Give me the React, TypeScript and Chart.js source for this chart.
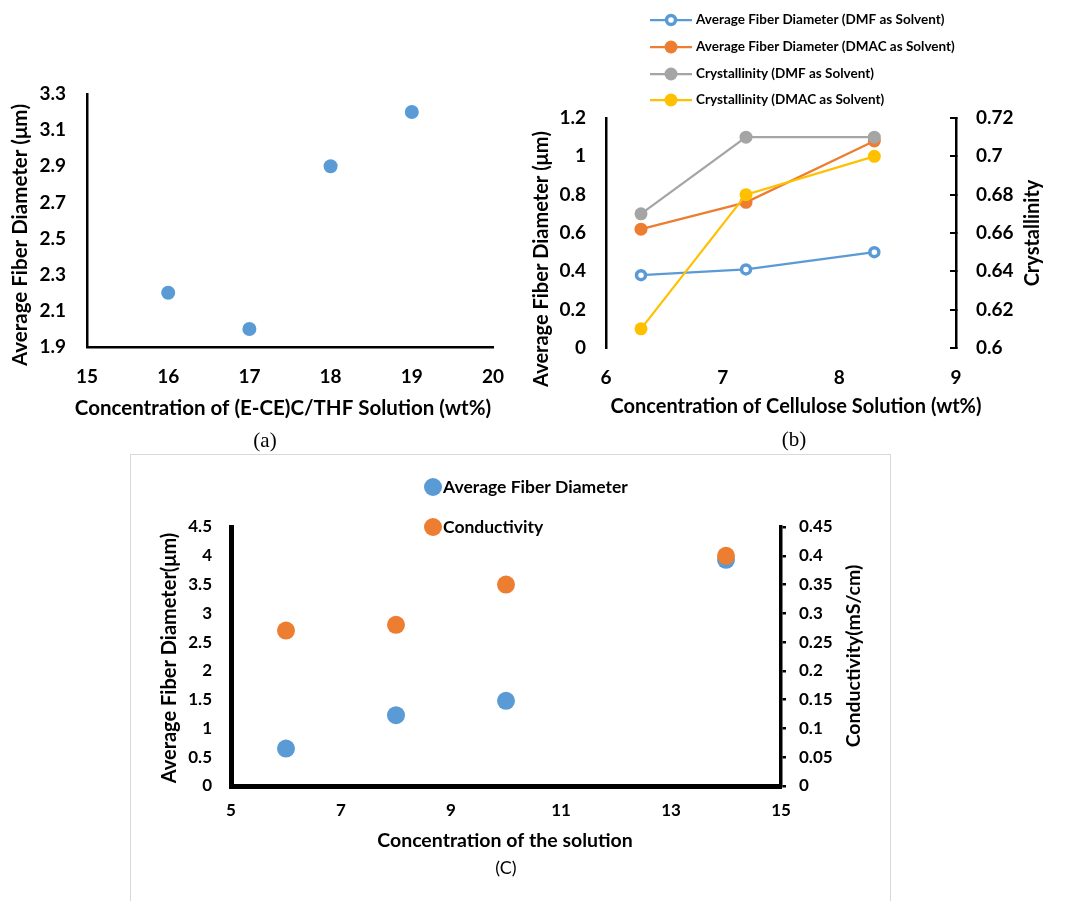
import React, { useEffect, useRef } from 'react';
import { Chart, registerables } from 'chart.js';

Chart.register(...registerables);

// ---------- data ----------
// (a)
const aConcentration = [16, 17, 18, 19];
const aDiameter = [2.2, 2.0, 2.9, 3.2];

// (b)
const bConcentration = [6.3, 7.2, 8.3];
const bDiameterDMF = [0.38, 0.41, 0.5];
const bDiameterDMAC = [0.62, 0.76, 1.08];
const bCrystDMF = [0.67, 0.71, 0.71];
const bCrystDMAC = [0.61, 0.68, 0.7];
const bLabels = [
  'Average Fiber Diameter (DMF as Solvent)',
  'Average Fiber Diameter (DMAC as Solvent)',
  'Crystallinity (DMF as Solvent)',
  'Crystallinity (DMAC as Solvent)',
];

// (c)
const cConcentration = [6, 8, 10, 14];
const cDiameter = [0.65, 1.23, 1.48, 3.93];
const cConductivity = [0.27, 0.28, 0.35, 0.4];
const cLabels = ['Average Fiber Diameter', 'Conductivity'];

// ---------- style ----------
const W = 1068;
const H = 901;
const FONT = 'Lato, "Open Sans", sans-serif';
const SERIF = '"Liberation Serif", serif';
const BLUE = '#5B9BD5';
const ORANGE = '#ED7D31';
const GRAY = '#A5A5A5';
const YELLOW = '#FFC000';
const XAXIS_H = 60;

const pts = (xs: number[], ys: number[]) => xs.map((x, i) => ({ x, y: ys[i] }));
const tickFmt = (v: any) => String(Number(Number(v).toFixed(4)));

type TextItem = {
  text: string;
  x: number;
  y: number;
  rot?: number;
  font: string;
  align?: CanvasTextAlign;
  color?: string;
};

function textPlugin(id: string, items: TextItem[]) {
  return {
    id,
    afterDraw(chart: any) {
      const ctx = chart.ctx as CanvasRenderingContext2D;
      items.forEach((it) => {
        ctx.save();
        ctx.translate(it.x, it.y);
        if (it.rot) ctx.rotate(it.rot);
        ctx.font = it.font;
        ctx.fillStyle = it.color || '#000';
        ctx.textAlign = it.align || 'center';
        ctx.textBaseline = 'middle';
        ctx.fillText(it.text, 0, 0);
        ctx.restore();
      });
    },
  };
}

function lineLegendPlugin(rows: number[], x0: number, x1: number, tx: number, font: string) {
  return {
    id: 'lineLegend',
    afterDraw(chart: any) {
      const ctx = chart.ctx as CanvasRenderingContext2D;
      chart.data.datasets.forEach((ds: any, i: number) => {
        const y = rows[i];
        ctx.save();
        ctx.strokeStyle = ds.borderColor;
        ctx.lineWidth = ds.borderWidth;
        ctx.beginPath();
        ctx.moveTo(x0, y);
        ctx.lineTo(x1, y);
        ctx.stroke();
        const cx = (x0 + x1) / 2;
        ctx.beginPath();
        ctx.arc(cx, y, ds.pointRadius, 0, Math.PI * 2);
        ctx.fillStyle = ds.pointBackgroundColor;
        ctx.fill();
        if (ds.pointBorderWidth) {
          ctx.lineWidth = ds.pointBorderWidth;
          ctx.strokeStyle = ds.pointBorderColor;
          ctx.stroke();
        }
        ctx.font = font;
        ctx.fillStyle = '#000';
        ctx.textAlign = 'left';
        ctx.textBaseline = 'middle';
        ctx.fillText(ds.label, tx, y);
        ctx.restore();
      });
    },
  };
}

function dotLegendPlugin(rows: number[], cx: number, r: number, tx: number, font: string) {
  return {
    id: 'dotLegend',
    afterDraw(chart: any) {
      const ctx = chart.ctx as CanvasRenderingContext2D;
      const sets = [...chart.data.datasets].sort((a: any, b: any) => a.legendIndex - b.legendIndex);
      sets.forEach((ds: any, i: number) => {
        const y = rows[i];
        ctx.save();
        ctx.beginPath();
        ctx.arc(cx, y, r, 0, Math.PI * 2);
        ctx.fillStyle = ds.backgroundColor;
        ctx.fill();
        ctx.font = font;
        ctx.fillStyle = '#000';
        ctx.textAlign = 'left';
        ctx.textBaseline = 'middle';
        ctx.fillText(ds.label, tx, y);
        ctx.restore();
      });
    },
  };
}

const tickFont = (size: number) => ({ family: FONT, size, weight: 'bold' as const });
const noPlugins = { legend: { display: false }, tooltip: { enabled: false } };

// ---------- chart (a) ----------
function makeA(canvas: HTMLCanvasElement) {
  const L = 87, R = 493, T = 94, B = 347;
  return new Chart(canvas, {
    type: 'scatter',
    data: {
      datasets: [
        {
          label: 'Average Fiber Diameter',
          data: pts(aConcentration, aDiameter),
          backgroundColor: BLUE,
          borderColor: BLUE,
          pointRadius: 7,
          pointBorderWidth: 0,
        },
      ],
    },
    options: {
      responsive: false,
      animation: false,
      devicePixelRatio: 1,
      layout: { padding: { left: L - 60, right: W - R, top: T, bottom: H - B - XAXIS_H } },
      plugins: noPlugins as any,
      scales: {
        x: {
          type: 'linear',
          min: 15,
          max: 20,
          grid: { display: false },
          border: { display: true, color: '#000', width: 2.5 },
          ticks: { stepSize: 1, color: '#000', font: tickFont(19), padding: 10, callback: tickFmt },
          afterFit: (s: any) => { s.height = XAXIS_H; },
        },
        y: {
          min: 1.9,
          max: 3.3,
          grid: { display: false },
          border: { display: true, color: '#000', width: 2.5 },
          ticks: { stepSize: 0.2, color: '#000', font: tickFont(19), padding: 13, callback: tickFmt },
          afterFit: (s: any) => { s.width = 60; },
        },
      },
    },
    plugins: [
      textPlugin('textA', [
        { text: 'Average Fiber Diameter (μm)', x: 20, y: 235, rot: -Math.PI / 2, font: `bold 20.5px ${FONT}` },
        { text: 'Concentration of (E-CE)C/THF Solution (wt%)', x: 283, y: 408, font: `bold 20.5px ${FONT}` },
        { text: '(a)', x: 265, y: 441, font: `21px ${SERIF}` },
      ]),
    ],
  } as any);
}

// ---------- chart (b) ----------
function makeB(canvas: HTMLCanvasElement) {
  const L = 606, R = 956, T = 118, B = 348;
  const lineDs = (label: string, ys: number[], color: string, axis: string, order: number, hollow = false) => ({
    label,
    data: pts(bConcentration, ys),
    yAxisID: axis,
    borderColor: color,
    backgroundColor: color,
    borderWidth: 2.25,
    pointRadius: hollow ? 4.5 : 6.5,
    pointBackgroundColor: hollow ? '#fff' : color,
    pointBorderColor: color,
    pointBorderWidth: hollow ? 3.5 : 0,
    tension: 0,
    order,
  });
  return new Chart(canvas, {
    type: 'line',
    data: {
      datasets: [
        lineDs(bLabels[0], bDiameterDMF, BLUE, 'y', 3, true),
        lineDs(bLabels[1], bDiameterDMAC, ORANGE, 'y', 2),
        lineDs(bLabels[2], bCrystDMF, GRAY, 'y1', 1),
        lineDs(bLabels[3], bCrystDMAC, YELLOW, 'y1', 0),
      ],
    },
    options: {
      responsive: false,
      animation: false,
      devicePixelRatio: 1,
      layout: { padding: { left: L - 60, right: W - R - 80, top: T, bottom: H - B - XAXIS_H } },
      plugins: noPlugins as any,
      scales: {
        x: {
          type: 'linear',
          min: 6,
          max: 9,
          grid: { display: false },
          border: { display: false },
          ticks: { stepSize: 1, color: '#000', font: tickFont(19), padding: 10, callback: tickFmt },
          afterFit: (s: any) => { s.height = XAXIS_H; },
        },
        y: {
          position: 'left',
          min: 0,
          max: 1.2,
          grid: { display: false },
          border: { display: true, color: '#000', width: 2.5 },
          ticks: { stepSize: 0.2, color: '#000', font: tickFont(19), padding: 12, callback: tickFmt },
          afterFit: (s: any) => { s.width = 60; },
        },
        y1: {
          position: 'right',
          min: 0.6,
          max: 0.72,
          grid: {
            display: true,
            drawOnChartArea: false,
            drawTicks: true,
            tickLength: -6,
            color: '#000',
            lineWidth: 2,
          },
          border: { display: true, color: '#000', width: 2.5 },
          ticks: { stepSize: 0.02, color: '#000', font: tickFont(19), padding: 26, callback: tickFmt },
          afterFit: (s: any) => { s.width = 80; },
        },
      },
    },
    plugins: [
      textPlugin('textB', [
        { text: 'Average Fiber Diameter (μm)', x: 542, y: 259, rot: -Math.PI / 2, font: `bold 20px ${FONT}` },
        { text: 'Crystallinity', x: 1033, y: 233, rot: -Math.PI / 2, font: `bold 20px ${FONT}` },
        { text: 'Concentration of Cellulose Solution (wt%)', x: 796, y: 407, font: `bold 20px ${FONT}` },
        { text: '(b)', x: 794, y: 440, font: `21px ${SERIF}` },
      ]),
      lineLegendPlugin([20, 47, 74, 100], 650, 692, 696, `bold 13.5px ${FONT}`),
    ],
  } as any);
}

// ---------- chart (c) ----------
function makeC(canvas: HTMLCanvasElement) {
  const L = 231, R = 781, T = 527, B = 786;
  return new Chart(canvas, {
    type: 'scatter',
    data: {
      datasets: [
        {
          label: cLabels[0],
          data: pts(cConcentration, cDiameter),
          yAxisID: 'y',
          backgroundColor: BLUE,
          borderColor: BLUE,
          pointRadius: 9,
          pointBorderWidth: 0,
          order: 1,
          legendIndex: 0,
        },
        {
          label: cLabels[1],
          data: pts(cConcentration, cConductivity),
          yAxisID: 'y1',
          backgroundColor: ORANGE,
          borderColor: ORANGE,
          pointRadius: 9,
          pointBorderWidth: 0,
          order: 0,
          legendIndex: 1,
        },
      ],
    },
    options: {
      responsive: false,
      animation: false,
      devicePixelRatio: 1,
      layout: { padding: { left: L - 60, right: W - R - 70, top: T, bottom: H - B - XAXIS_H } },
      plugins: noPlugins as any,
      scales: {
        x: {
          type: 'linear',
          min: 5,
          max: 15,
          grid: { display: false },
          border: { display: true, color: '#000', width: 5 },
          ticks: { stepSize: 2, color: '#000', font: tickFont(17), padding: 6, callback: tickFmt },
          afterFit: (s: any) => { s.height = XAXIS_H; },
        },
        y: {
          position: 'left',
          min: 0,
          max: 4.5,
          grid: { display: false },
          border: { display: true, color: '#000', width: 5 },
          ticks: { stepSize: 0.5, color: '#000', font: tickFont(17), padding: 11, callback: tickFmt },
          afterFit: (s: any) => { s.width = 60; },
        },
        y1: {
          position: 'right',
          min: 0,
          max: 0.45,
          grid: {
            display: true,
            drawOnChartArea: false,
            drawTicks: true,
            tickLength: 5,
            color: '#000',
            lineWidth: 2.5,
          },
          border: { display: true, color: '#000', width: 3.5 },
          ticks: { stepSize: 0.05, color: '#000', font: tickFont(17), padding: 13, callback: tickFmt },
          afterFit: (s: any) => { s.width = 70; },
        },
      },
    },
    plugins: [
      textPlugin('textC', [
        { text: 'Average Fiber Diameter(μm)', x: 170, y: 658, rot: -Math.PI / 2, font: `bold 20px ${FONT}` },
        { text: 'Conductivity(mS/cm)', x: 854, y: 656, rot: -Math.PI / 2, font: `bold 19.5px ${FONT}` },
        { text: 'Concentration of the solution', x: 505, y: 841, font: `bold 19.5px ${FONT}` },
        { text: '(C)', x: 506, y: 868, font: `18px ${FONT}` },
      ]),
      dotLegendPlugin([487, 527], 433, 9, 443, `bold 17.5px ${FONT}`),
    ],
  } as any);
}

function ChartCanvas({ make }: { make: (c: HTMLCanvasElement) => Chart }) {
  const ref = useRef<HTMLCanvasElement>(null);
  useEffect(() => {
    const ch = make(ref.current as HTMLCanvasElement);
    return () => ch.destroy();
  }, [make]);
  return (
    <canvas
      ref={ref}
      width={W}
      height={H}
      style={{ position: 'absolute', left: 0, top: 0, width: W, height: H }}
    />
  );
}

export default function App() {
  return (
    <div style={{ position: 'absolute', left: 0, top: 0, width: W, height: H, background: '#fff', overflow: 'hidden' }}>
      <div
        style={{
          position: 'absolute',
          left: 130,
          top: 454,
          width: 761,
          height: 460,
          border: '1.5px solid #d9d9d9',
          boxSizing: 'border-box',
        }}
      />
      <ChartCanvas make={makeA} />
      <ChartCanvas make={makeB} />
      <ChartCanvas make={makeC} />
    </div>
  );
}
